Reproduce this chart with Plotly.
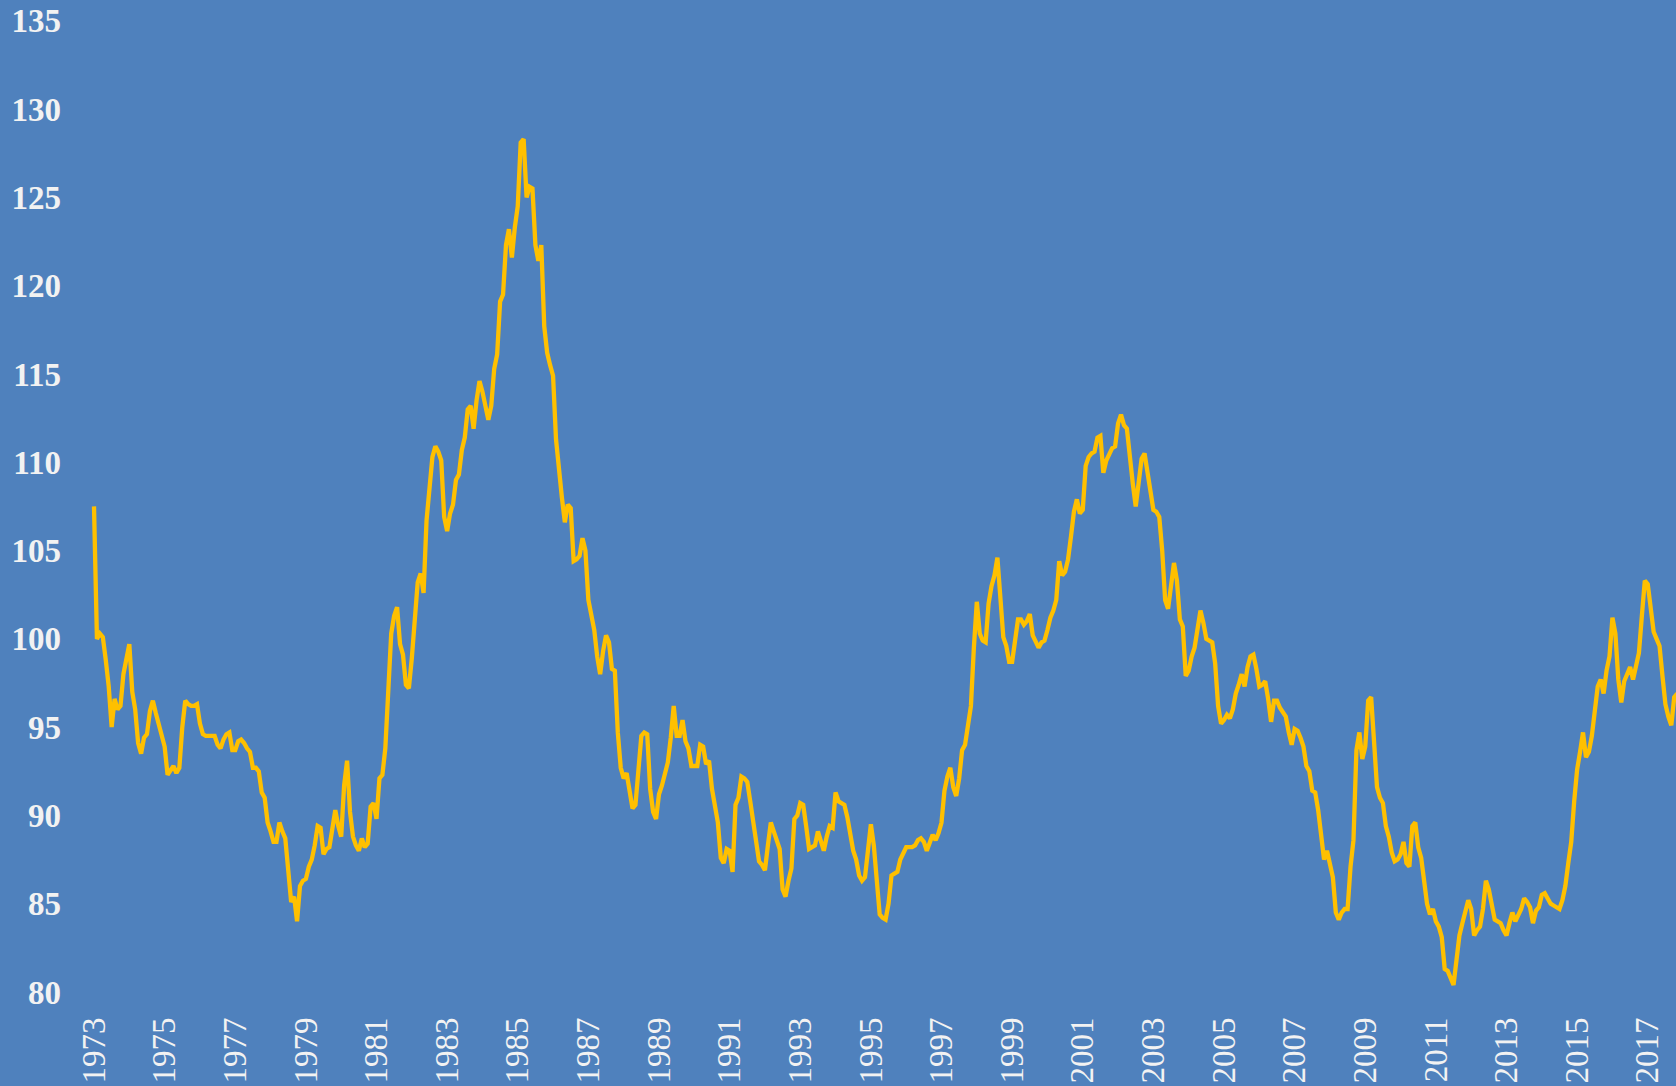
import plotly.graph_objects as go

# Monthly index values, Jan 1973 .. Nov 2017
start_year = 1973
dollar_index = [
    # 1973
    107.5, 100.0, 100.3, 100.1, 98.8, 97.3, 95.0, 96.6, 96.0, 96.2, 98.0, 99.0,
    # 1974
    99.7, 97.0, 96.0, 94.1, 93.5, 94.4, 94.6, 95.9, 96.5, 95.8, 95.2, 94.5,
    # 1975
    93.9, 92.3, 92.6, 92.8, 92.4, 92.7, 95.0, 96.5, 96.3, 96.2, 96.2, 96.3,
    # 1976
    95.2, 94.6, 94.5, 94.5, 94.5, 94.5, 94.0, 93.8, 94.3, 94.6, 94.7, 93.7,
    # 1977
    93.7, 94.2, 94.3, 94.1, 93.8, 93.6, 92.7, 92.7, 92.5, 91.3, 91.0, 89.6,
    # 1978
    89.1, 88.5, 88.5, 89.6, 89.1, 88.7, 86.9, 85.1, 85.4, 84.0, 86.0, 86.3,
    # 1979
    86.4, 87.1, 87.5, 88.3, 89.4, 89.3, 87.8, 88.1, 88.2, 89.3, 90.3, 89.4,
    # 1980
    88.8, 91.7, 93.1, 90.2, 88.8, 88.3, 88.0, 88.7, 88.2, 88.4, 90.5, 90.7,
    # 1981
    89.8, 92.1, 92.3, 93.8, 97.5, 100.3, 101.3, 101.8, 99.7, 99.1, 97.4, 97.2,
    # 1982
    98.9, 101.5, 103.2, 103.7, 102.6, 106.7, 108.3, 110.3, 110.9, 110.6, 110.1, 106.9,
    # 1983
    106.1, 107.1, 107.6, 109.0, 109.3, 110.7, 111.4, 113.0, 113.2, 111.9, 113.5, 114.6,
    # 1984
    114.0, 113.3, 112.4, 113.2, 115.3, 116.1, 119.1, 119.5, 122.3, 123.2, 121.6, 123.3,
    # 1985
    124.5, 128.1, 128.3, 125.0, 125.6, 125.5, 122.3, 121.4, 122.3, 117.7, 116.2, 115.5,
    # 1986
    114.9, 111.3, 109.5, 108.0, 106.6, 107.6, 107.4, 104.4, 104.5, 104.7, 105.7, 105.0,
    # 1987
    102.2, 101.4, 100.5, 99.0, 98.0, 99.3, 100.2, 99.8, 98.3, 98.2, 94.7, 92.7,
    # 1988
    92.1, 92.4, 91.5, 90.4, 90.6, 92.7, 94.5, 94.7, 94.6, 91.5, 90.2, 89.8,
    # 1989
    91.2, 91.7, 92.5, 93.0, 94.4, 96.2, 94.5, 94.5, 95.4, 94.2, 93.8, 92.8,
    # 1990
    92.8, 92.8, 94.0, 93.9, 92.9, 93.1, 91.5, 90.5, 89.6, 87.6, 87.3, 88.1,
    # 1991
    88.0, 86.8, 90.6, 91.0, 92.2, 92.1, 91.9, 90.8, 89.6, 88.5, 87.4, 87.2,
    # 1992
    86.9, 88.3, 89.6, 89.1, 88.5, 88.1, 85.8, 85.4, 86.3, 87.0, 89.8, 90.0,
    # 1993
    90.7, 90.6, 89.4, 88.1, 88.2, 88.3, 89.1, 88.6, 88.0, 88.8, 89.4, 89.3,
    # 1994
    91.3, 90.8, 90.7, 90.6, 89.9, 88.8, 88.0, 87.5, 86.6, 86.3, 86.5, 88.0,
    # 1995
    89.5, 88.3, 86.0, 84.4, 84.2, 84.1, 85.0, 86.6, 86.7, 86.8, 87.5, 87.9,
    # 1996
    88.2, 88.2, 88.2, 88.3, 88.6, 88.7, 88.5, 88.0, 88.5, 88.9, 88.6, 89.0,
    # 1997
    89.6, 91.4, 92.2, 92.7, 91.6, 91.1, 92.1, 93.7, 94.0, 95.2, 96.2, 99.5,
    # 1998
    102.1, 100.3, 99.9, 99.8, 102.0, 103.0, 103.6, 104.6, 102.5, 100.1, 99.6, 98.7,
    # 1999
    98.7, 100.1, 101.1, 101.1, 100.8, 101.0, 101.4, 100.2, 99.8, 99.5, 99.8, 99.9,
    # 2000
    100.5, 101.2, 101.6, 102.2, 104.4, 103.6, 103.8, 104.5, 105.8, 107.2, 107.9, 107.1,
    # 2001
    107.3, 109.8, 110.3, 110.5, 110.6, 111.4, 111.5, 109.4, 110.1, 110.5, 110.8, 110.9,
    # 2002
    112.2, 112.7, 112.1, 111.9, 110.1, 108.8, 107.5, 109.0, 110.2, 110.5, 109.4, 108.2,
    # 2003
    107.3, 107.2, 106.9, 105.0, 102.2, 101.7, 103.0, 104.3, 103.3, 101.1, 100.7, 97.9,
    # 2004
    98.2, 99.0, 99.5, 100.6, 101.6, 100.9, 100.0, 99.9, 99.8, 98.6, 96.2, 95.2,
    # 2005
    95.4, 95.7, 95.5, 96.0, 96.9, 97.4, 98.0, 97.3, 98.4, 99.0, 99.1, 98.3,
    # 2006
    97.3, 97.4, 97.6, 96.6, 95.3, 96.5, 96.5, 96.1, 95.8, 95.6, 94.7, 94.0,
    # 2007
    94.9, 94.8, 94.4, 93.9, 92.8, 92.5, 91.4, 91.3, 90.3, 88.8, 87.5, 88.0,
    # 2008
    87.3, 86.5, 84.5, 84.1, 84.5, 84.7, 84.7, 87.1, 88.6, 93.7, 94.7, 93.2,
    # 2009
    93.9, 96.5, 96.7, 94.3, 91.6, 91.0, 90.7, 89.4, 88.8, 87.9, 87.4, 87.5,
    # 2010
    87.8, 88.5, 87.3, 87.1, 89.4, 89.6, 88.2, 87.6, 86.5, 85.0, 84.4, 84.7,
    # 2011
    84.0, 83.7, 83.1, 81.3, 81.2, 80.8, 80.4, 81.8, 83.2, 83.9, 84.5, 85.2,
    # 2012
    84.7, 83.2, 83.5, 83.7, 84.7, 86.3, 85.8, 84.8, 84.1, 84.0, 83.9, 83.5,
    # 2013
    83.2, 83.9, 84.5, 84.0, 84.3, 84.7, 85.3, 85.1, 84.8, 83.9, 84.6, 84.8,
    # 2014
    85.5, 85.6, 85.3, 85.0, 84.9, 84.8, 84.7, 85.2, 86.0, 87.3, 88.5, 90.8,
    # 2015
    92.6, 93.6, 94.7, 93.3, 93.6, 94.5, 95.8, 97.3, 97.7, 96.9, 98.2, 99.0,
    # 2016
    101.2, 100.3, 97.7, 96.4, 97.6, 98.0, 98.4, 97.7, 98.5, 99.2, 101.3, 103.3,
    # 2017
    103.1, 101.8, 100.4, 100.0, 99.6, 97.9, 96.3, 95.6, 95.1, 96.7, 96.9,
]

y_ticks = [80, 85, 90, 95, 100, 105, 110, 115, 120, 125, 130, 135]
x_tick_years = list(range(1973, 2018, 2))

month_index = list(range(len(dollar_index)))
x_tick_vals = [(yr - start_year) * 12 for yr in x_tick_years]
x_tick_text = [str(yr) for yr in x_tick_years]

BG = "#4F81BD"
LINE = "#FFC000"
FONT = "Liberation Serif"
TXT = "#F2F2F2"

fig = go.Figure(
    go.Scatter(
        x=month_index,
        y=dollar_index,
        mode="lines",
        line=dict(color=LINE, width=4.3),
        hoverinfo="skip",
    )
)

fig.update_layout(
    width=1676,
    height=1086,
    margin=dict(l=88, r=0, t=0, b=94, pad=0),
    paper_bgcolor=BG,
    plot_bgcolor=BG,
    showlegend=False,
    font=dict(family=FONT, color=TXT, size=33),
)

fig.update_xaxes(
    range=[-2.04, 537.6],
    tickmode="array",
    tickvals=x_tick_vals,
    ticktext=x_tick_text,
    tickangle=-90,
    showgrid=False,
    zeroline=False,
    showline=False,
    ticks="",
    ticklabelstandoff=18,
    tickfont=dict(family=FONT, size=33, color=TXT),
)

fig.update_yaxes(
    range=[80, 136.18],
    tickmode="array",
    tickvals=y_ticks,
    ticktext=[str(v) for v in y_ticks],
    showgrid=False,
    zeroline=False,
    showline=False,
    ticks="",
    ticklabelstandoff=26,
    tickfont=dict(family=FONT, size=33, color=TXT, weight="bold"),
)

fig.write_html(
    "out.html",
    config={"displayModeBar": False},
    post_script="document.body.style.margin='0';document.body.style.overflow='hidden';",
)
